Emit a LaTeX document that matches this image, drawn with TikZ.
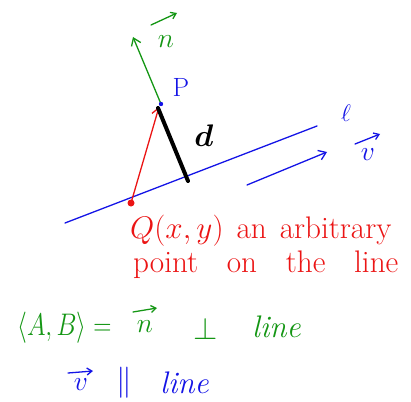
\RequirePackage{fix-cm}
\documentclass[tikz,border=0pt]{standalone}
\usepackage{amsmath}
\usepackage{graphicx}
\usetikzlibrary{arrows.meta}
\definecolor{penred}{RGB}{235,20,20}
\definecolor{pengreen}{RGB}{20,150,20}
\definecolor{penblue}{RGB}{20,20,230}
\newcommand{\penbig}[1]{\scalebox{1.3}{#1}}
\begin{document}
\begin{tikzpicture}[x=1pt,y=-1pt]
		\tikzstyle{every node}=[font=\fontsize{24pt}{28pt}\selectfont, inner sep=0pt]
		\tikzstyle{pen}=[line width=1.3pt, line cap=round]
		\tikzstyle{tip}=[-{Straight Barb[length=7pt,width=10pt]}]
		\tikzstyle{smalltip}=[-{Straight Barb[length=5pt,width=7pt]}]
		\useasboundingbox (0,0) rectangle (411,401);
		
		% the line and its points
		\coordinate (L0) at (65,223);
		\coordinate (L1) at (317,126);
		\coordinate (Q) at (131,203);
		\coordinate (P) at (161,104);
		\coordinate (F) at (188,181);
		\coordinate (N) at (133,37);
		\coordinate (V0) at (247,185);
		\coordinate (V1) at (327,152);
		
		\draw[pen, penblue] (L0) -- (L1);
		\draw[pen, pengreen, tip] (P) -- (N);
		\draw[pen, penred, tip] (Q) -- (159,107);
		\draw[line width=4pt, line cap=round] (158,108) -- (F);
		\draw[pen, penblue, tip] (V0) -- (V1);
		\fill[penred] (Q) circle (3.5pt);
		\fill[penblue] (P) circle (2.2pt);
		
		% labels
		\node[pengreen] (nlab) at (166,42) {\scalebox{1.15}{$n$}};
		\draw[pen, pengreen, smalltip] (151,25) -- (177,13);
		\node[penblue] (plab) at (181,87) {\scalebox{1.1}{P}};
		\node (dlab) at (204,136) {\penbig{$\boldsymbol{d}$}};
		\node[penblue] (llab) at (346,113) {$\ell$};
		\node[penblue] (vlab) at (368,155) {\scalebox{1.15}{$v$}};
		\draw[pen, penblue, smalltip] (355,144) -- (380,134);
		
		% notes
		\node[penred, anchor=west] (qtxt) at (130,231) {\penbig{\makebox[201pt][s]{$Q(x,y)$ an arbitrary}}};
		\node[penred, anchor=west] (ptxt) at (133,265) {\penbig{\makebox[204pt][s]{point on the line}}};
		
		\node[pengreen, anchor=west] (ab) at (17,328) {\scalebox{1.05}[1.3]{$\langle A,B\rangle=$}};
		\node[pengreen] (ntxt) at (145,327) {\scalebox{1.15}{$n$}};
		\draw[pen, pengreen, smalltip] (133,312) -- (157,308);
		\node[pengreen] (perp) at (206,329) {\penbig{$\perp$}};
		\node[pengreen, anchor=west] (lgreen) at (252,327) {\penbig{\textit{line}}};
		
		\node[penblue] (vtxt) at (81,385) {\scalebox{1.15}{$v$}};
		\draw[pen, penblue, smalltip] (68,373) -- (93,371);
		\node[penblue] (para) at (124,383) {\penbig{$\parallel$}};
		\node[penblue, anchor=west] (lblue) at (160,383) {\penbig{\textit{line}}};
		
	\end{tikzpicture}
\end{document}
